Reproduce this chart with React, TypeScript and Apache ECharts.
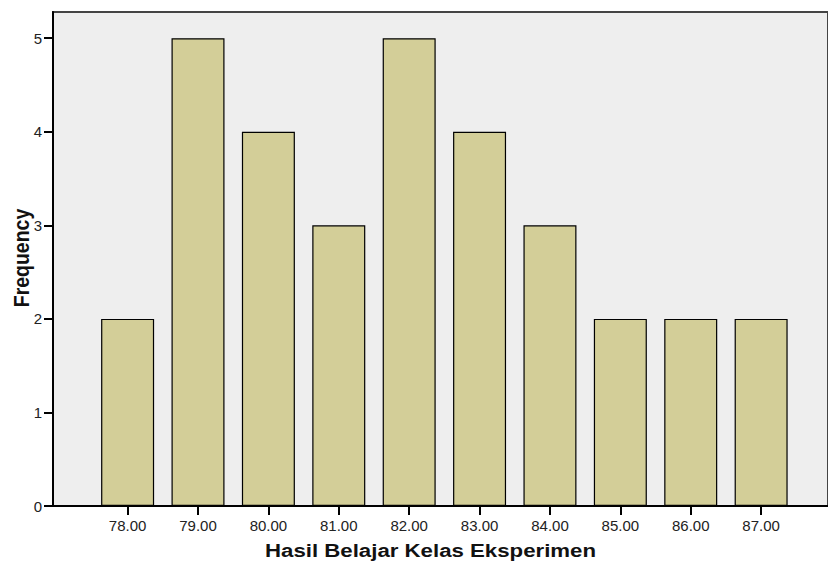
import React, { useEffect, useRef } from "react";
import * as echarts from "echarts";

const categories = [78, 79, 80, 81, 82, 83, 84, 85, 86, 87];
const frequencies = [2, 5, 4, 3, 5, 4, 3, 2, 2, 2];
const xTitle = "Hasil Belajar Kelas Eksperimen";
const yTitle = "Frequency";

export default function App() {
  const ref = useRef<HTMLDivElement>(null);
  useEffect(() => {
    document.body.style.margin = "0";
    const chart = echarts.init(ref.current!, null, { renderer: "svg" });
    const font = "Liberation Sans";
    chart.setOption({
      animation: false,
      backgroundColor: "#ffffff",
      textStyle: { fontFamily: font },
      grid: {
        left: 53,
        top: 12,
        right: -3,
        bottom: 59,
        show: true,
        backgroundColor: "#eeeeee",
        borderColor: "#444444",
        borderWidth: 2,
      },
      xAxis: {
        type: "value",
        min: 76.94,
        max: 87.95,
        axisLine: { show: true, onZero: false, lineStyle: { color: "#000", width: 2 } },
        axisTick: { show: true, length: 9, lineStyle: { color: "#000", width: 2 }, customValues: categories },
        axisLabel: {
          customValues: categories,
          formatter: (v: number) => v.toFixed(2),
          color: "#222",
          fontSize: 15,
          fontFamily: font,
          margin: 12,
        },
        splitLine: { show: false },
      },
      yAxis: {
        type: "value",
        min: 0,
        max: 5.28,
        interval: 1,
        axisLine: { show: true, lineStyle: { color: "#000", width: 2 } },
        axisTick: { show: true, length: 9, lineStyle: { color: "#000", width: 2 } },
        axisLabel: {
          showMaxLabel: false,
          color: "#222",
          fontSize: 15,
          fontFamily: font,
          margin: 11,
        },
        splitLine: { show: false },
      },
      series: [
        {
          type: "bar",
          data: categories.map((c, i) => [c, frequencies[i]]),
          barWidth: 53,
          itemStyle: { color: "#d3ce98", borderColor: "#000", borderWidth: 1.2 },
        },
      ],
      graphic: [
        {
          type: "text",
          x: 430.5,
          y: 551,
          scaleX: 1.27,
          style: {
            text: xTitle,
            fontSize: 17.5,
            fontWeight: "bold",
            fontFamily: font,
            fill: "#111",
            align: "center",
            verticalAlign: "middle",
          },
        },
        {
          type: "text",
          x: 21,
          y: 258,
          rotation: Math.PI / 2,
          scaleY: 1.15,
          style: {
            text: yTitle,
            fontSize: 19.5,
            fontWeight: "bold",
            fontFamily: font,
            fill: "#111",
            align: "center",
            verticalAlign: "middle",
          },
        },
      ],
    });
    return () => chart.dispose();
  }, []);
  return <div ref={ref} style={{ width: 828, height: 565 }} />;
}
